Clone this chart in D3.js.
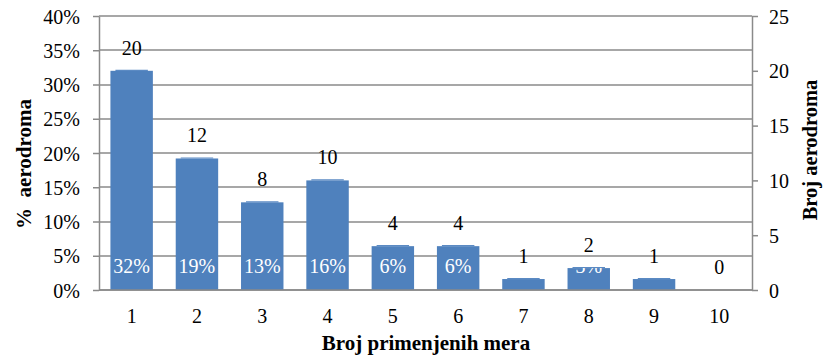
<!DOCTYPE html>
<html><head><meta charset="utf-8">
<script src="https://cdn.jsdelivr.net/npm/d3@7"></script>
<style>body{margin:0;background:#fff}svg{display:block}text{font-family:"Liberation Serif","Times New Roman",serif}</style>
</head><body>
<svg id="c" width="823" height="358"></svg>
<script>
const categories = ["1","2","3","4","5","6","7","8","9","10"];
const counts = [20,12,8,10,4,4,1,2,1,0];
const percents = [32,19,13,16,6,6,2,3,2,0];
const leftTicks = [0,5,10,15,20,25,30,35,40];
const rightTicks = [0,5,10,15,20,25];

const svg = d3.select("#c");
const L = 99, R = 752, T = 16, B = 290;
const grid = "#8a8a8a";
const fs = 20;

const x = d3.scaleBand().domain(categories).range([L, R]).paddingInner(0.35).paddingOuter(0.175);
const yL = d3.scaleLinear().domain([0, 40]).range([B, T]);
const yR = d3.scaleLinear().domain([0, 25]).range([B, T]);

// gridlines
svg.append("g").selectAll("line").data(leftTicks).join("line")
  .attr("x1", L).attr("x2", R).attr("y1", d => Math.round(yL(d))).attr("y2", d => Math.round(yL(d)))
  .attr("stroke", grid).attr("stroke-width", 1.4);

// bars
svg.append("g").selectAll("rect").data(counts).join("rect")
  .attr("x", (d,i) => x(categories[i])).attr("width", x.bandwidth())
  .attr("y", d => yR(d)).attr("height", d => B - yR(d))
  .attr("fill", "#4F81BD");
// slight bevel on bar tops
svg.append("g").selectAll("line").data(counts).join("line")
  .filter(d => d > 0)
  .attr("x1", (d,i) => x(categories[i]) + 5).attr("x2", (d,i) => x(categories[i]) + x.bandwidth() - 5)
  .attr("y1", d => yR(d) - 0.5).attr("y2", d => yR(d) - 0.5)
  .attr("stroke", "#5b8ac3").attr("stroke-width", 1.2);

// percent labels (white, fixed position, clipped to bars)
const defs = svg.append("defs");
const clip = defs.append("clipPath").attr("id", "barclip");
clip.selectAll("rect").data(counts).join("rect")
  .attr("x", (d,i) => x(categories[i])).attr("width", x.bandwidth())
  .attr("y", d => yR(d)).attr("height", d => B - yR(d));
svg.append("g").attr("clip-path", "url(#barclip)").selectAll("text").data(percents).join("text")
  .attr("x", (d,i) => x(categories[i]) + x.bandwidth()/2)
  .attr("y", 273)
  .attr("text-anchor", "middle").attr("font-size", fs)
  .attr("fill", "#fff")
  .text(d => d > 0 ? d + "%" : "");

// left axis
const gl = svg.append("g").attr("transform", `translate(${L},0)`)
  .call(d3.axisLeft(yL).tickValues(leftTicks).tickFormat(d => d + "%").tickSize(6).tickSizeOuter(0));
// right axis
const gr = svg.append("g").attr("transform", `translate(${R},0)`)
  .call(d3.axisRight(yR).tickValues(rightTicks).tickSize(6).tickSizeOuter(0));
// bottom axis
const gb = svg.append("g").attr("transform", `translate(0,${B})`)
  .call(d3.axisBottom(x).tickSize(0).tickSizeOuter(0));
[gl, gr, gb].forEach(g => {
  g.attr("font-family", null);
  g.selectAll("path, line").attr("stroke", grid).attr("stroke-width", 1.5);
  g.selectAll("text").attr("font-size", fs).attr("fill", "#000");
});
gl.selectAll("text").attr("x", -19).attr("dy", "0.35em");
gr.selectAll("text").attr("x", 17).attr("dy", "0.35em");
gb.selectAll("text").attr("y", 33).attr("dy", 0);
gb.select("path").attr("d", `M${L},0H${R}`);

// count labels
svg.append("g").selectAll("text").data(counts).join("text")
  .attr("x", (d,i) => x(categories[i]) + x.bandwidth()/2)
  .attr("y", d => yR(d) - 16)
  .attr("text-anchor", "middle").attr("font-size", fs)
  .text(d => d);

// axis titles
svg.append("text").attr("x", 426).attr("y", 350).attr("text-anchor","middle")
  .attr("font-size", 21).attr("font-weight","bold")
  .text("Broj primenjenih mera");
svg.append("text").attr("transform", "translate(31,164) rotate(-90)").attr("text-anchor","middle")
  .attr("font-size", 21).attr("font-weight","bold")
  .style("white-space","pre")
  .text("%  aerodroma");
svg.append("text").attr("transform", "translate(817,150) rotate(-90)").attr("text-anchor","middle")
  .attr("font-size", 20.5).attr("font-weight","bold")
  .text("Broj aerodroma");
</script>
</body></html>
